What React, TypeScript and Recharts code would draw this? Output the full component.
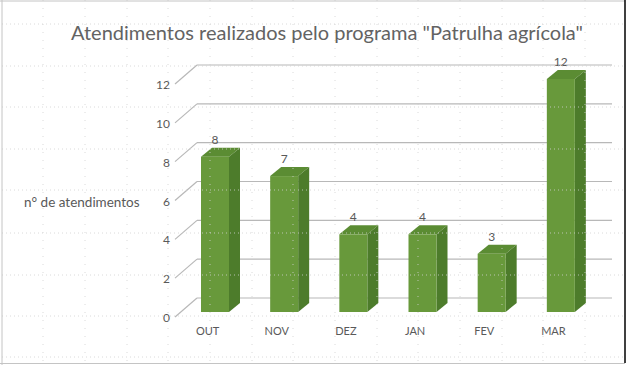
import React from 'react';
import { BarChart, Bar, XAxis, YAxis, CartesianGrid, LabelList } from 'recharts';

// values
const months = ['OUT', 'NOV', 'DEZ', 'JAN', 'FEV', 'MAR'];
const atendimentos = [8, 7, 4, 4, 3, 12];
const yTicks = [0, 2, 4, 6, 8, 10, 12];

const data = months.map((mes, i) => ({ mes, valor: atendimentos[i] }));

// sheet cell gridlines seen behind/over the chart
const sheetCols = [43, 85, 127, 168, 210, 252, 293, 335, 377, 418, 460, 502, 543, 585];
const sheetRows = [24, 66, 107, 149, 190, 233, 275, 316, 357];

const font = 'Lato, "Liberation Sans", sans-serif';
const textColor = '#595959';
const gridColor = '#b8b8b8';
const faceFront = '#68993b';
const faceSide = '#4d7c2b';
const faceTop = '#5b8c33';

// 3D depth of the bars
const DX = 11;
const DY = 9;

const Bar3D = (props: any) => {
  const { x, y, width, height } = props;
  if (height <= 0) return null;
  return (
    <g>
      <polygon
        points={`${x},${y} ${x + DX},${y - DY} ${x + width + DX},${y - DY} ${x + width},${y}`}
        fill={faceTop}
      />
      <polygon
        points={`${x + width},${y} ${x + width + DX},${y - DY} ${x + width + DX},${y + height - DY} ${x + width},${y + height}`}
        fill={faceSide}
      />
      <rect x={x} y={y} width={width} height={height} fill={faceFront} />
    </g>
  );
};

// back wall line + slanted side wall line for each value tick
const gridLine = (props: any) => {
  const { x1, x2, y1, key } = props;
  return (
    <g key={key}>
      <line x1={x1 - 5} y1={y1 + 5} x2={x1 + 17} y2={y1 - 14} stroke={gridColor} strokeWidth={1.2} />
      <line x1={x1 + 17} y1={y1 - 14} x2={x2 + 17} y2={y1 - 14} stroke={gridColor} strokeWidth={1.2} />
    </g>
  );
};

const YTick = (props: any) => {
  const { x, y, payload } = props;
  return (
    <text x={x} y={y + 6} dy={4} textAnchor="end" fontFamily={font} fontSize={12} fill={textColor}>
      {payload.value}
    </text>
  );
};

const XTick = (props: any) => {
  const { x, payload } = props;
  return (
    <text x={x - 7} y={335} textAnchor="middle" fontFamily={font} fontSize={11} fill={textColor}>
      {payload.value}
    </text>
  );
};

const ValueLabel = (props: any) => {
  const { x, y, width, value } = props;
  return (
    <text x={x + width / 2} y={y - 13} textAnchor="middle" fontFamily={font} fontSize={12} fill={textColor}>
      {value}
    </text>
  );
};

export default function App() {
  return (
    <div style={{ position: 'absolute', left: 0, top: 0, width: 629, height: 365, background: '#fff' }}>
      <BarChart width={629} height={365} data={data} margin={{ top: 79, right: 34, left: 150, bottom: 23 }}>
        <CartesianGrid vertical={false} horizontal={gridLine} />
        <XAxis dataKey="mes" axisLine={false} tickLine={false} height={30} tick={<XTick />} interval={0} />
        <YAxis
          domain={[0, 12]}
          ticks={yTicks}
          axisLine={false}
          tickLine={false}
          tickSize={0}
          tickMargin={10}
          width={30}
          tick={<YTick />}
        />
        <Bar dataKey="valor" barSize={28} shape={<Bar3D />} isAnimationActive={false}>
          <LabelList dataKey="valor" content={<ValueLabel />} />
        </Bar>
      </BarChart>
      <svg
        width={629}
        height={365}
        style={{ position: 'absolute', left: 0, top: 0, pointerEvents: 'none' }}
      >
        {sheetCols.map((c) => (
          <line key={'c' + c} x1={c} y1={0} x2={c} y2={363} stroke="#d2d2d2" strokeDasharray="1 7" opacity={0.8} />
        ))}
        {sheetRows.map((r) => (
          <line key={'r' + r} x1={2} y1={r} x2={625} y2={r} stroke="#d2d2d2" strokeDasharray="1 3" opacity={0.8} />
        ))}
        <line x1={0} y1={1} x2={625} y2={1} stroke="#c4c4c4" />
        <line x1={2} y1={0} x2={2} y2={365} stroke="#c4c4c4" />
        <line x1={0} y1={363.5} x2={625} y2={363.5} stroke="#c4c4c4" />
        <line x1={625} y1={0} x2={625} y2={363} stroke="#000" strokeWidth={1.5} />
        <text x={327} y={40} textAnchor="middle" fontFamily={font} fontSize={20} fill="#636363">
          Atendimentos realizados pelo programa "Patrulha agrícola"
        </text>
        <text x={24} y={207} fontFamily={font} fontSize={13.5} fill={textColor}>
          n° de atendimentos
        </text>
      </svg>
    </div>
  );
}
